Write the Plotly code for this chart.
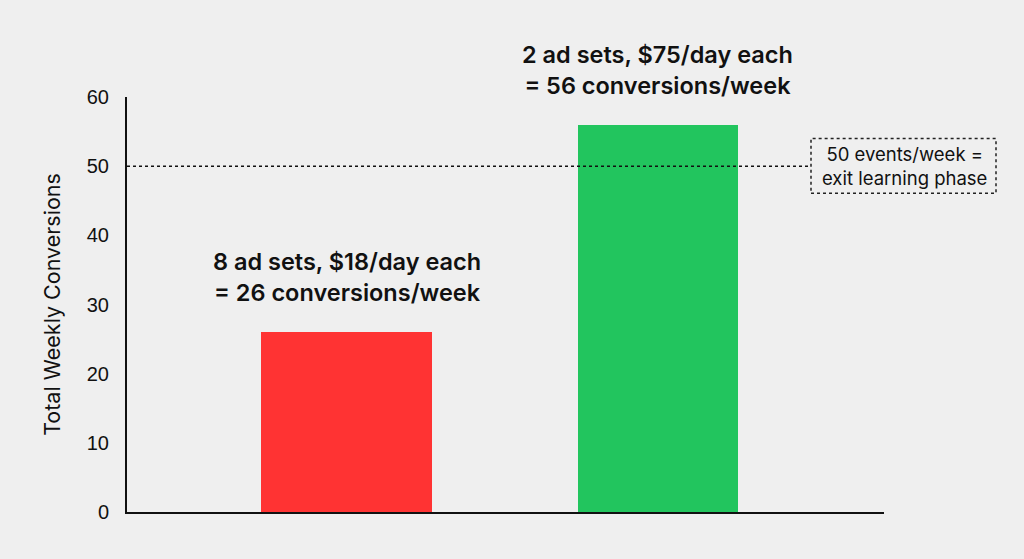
import plotly.graph_objects as go

categories = ["8 ad sets", "2 ad sets"]
conversions = [26, 56]
labels = ["8 ad sets, $18/day each<br>= 26 conversions/week",
          "2 ad sets, $75/day each<br>= 56 conversions/week"]
colors = ["#ff3333", "#22c55e"]
bar_widths = [0.55, 0.514]
threshold = 50
threshold_label = "50 events/week =<br>exit learning phase"
y_ticks = [0, 10, 20, 30, 40, 50, 60]

x_pos = list(range(len(categories)))

fig = go.Figure()
fig.add_trace(go.Bar(
    x=x_pos, y=conversions, width=bar_widths,
    marker=dict(color=colors, line=dict(width=0)),
    hovertext=categories, showlegend=False,
))

for xp, yv, lab in zip(x_pos, conversions, labels):
    fig.add_annotation(x=xp, y=yv, text=lab, showarrow=False,
                       xanchor="center", yanchor="bottom", yshift=23,
                       font=dict(family="Inter", size=23.5, color="#111111", weight=600))

# threshold dotted line
fig.add_shape(type="line", xref="x", yref="y", x0=-0.705, x1=1.491,
              y0=threshold, y1=threshold,
              line=dict(color="#111111", width=1.5, dash="dot"))
# threshold label box
fig.add_shape(type="rect", xref="paper", yref="y",
              x0=(811 - 127) / 757, x1=(996 - 127) / 757,
              y0=threshold - 3.9, y1=threshold + 4.0,
              line=dict(color="#222222", width=1.5, dash="dot"),
              fillcolor="rgba(0,0,0,0)")
fig.add_annotation(xref="paper", yref="y", x=(904 - 127) / 757, y=threshold,
                   text=threshold_label, showarrow=False, xanchor="center", yanchor="middle",
                   font=dict(family="Inter", size=18.5, color="#111111"))

fig.update_layout(
    width=1024, height=559,
    margin=dict(l=127, r=140, t=97, b=47),
    paper_bgcolor="#efefef", plot_bgcolor="#efefef",
    xaxis=dict(range=[-0.705, 1.726], showticklabels=False, showgrid=False,
               zeroline=False, showline=True, linecolor="#111111", linewidth=2,
               ticks="", fixedrange=True),
    yaxis=dict(range=[0, 60], tickvals=y_ticks, showgrid=False, zeroline=False,
               showline=True, linecolor="#111111", linewidth=2, ticks="",
               ticklabelstandoff=12,
               tickfont=dict(family="Liberation Sans", size=20, color="#111111"),
               title=dict(text="Total Weekly Conversions", standoff=20,
                          font=dict(family="Inter", size=21.5, color="#111111"))),
    bargap=0,
)

fig.write_html("out.html")
